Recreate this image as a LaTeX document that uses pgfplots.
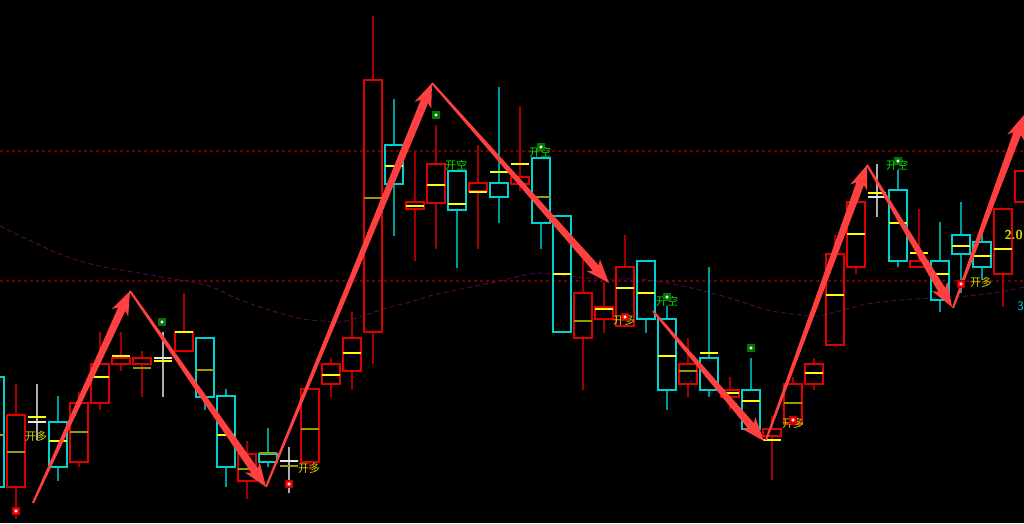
\documentclass[border=0pt]{standalone}
\usepackage{pgfplots}
\pgfplotsset{compat=1.18}
\usepgfplotslibrary{statistics}
\usepackage{fontspec}
\newfontfamily\cjk{Noto Sans CJK SC}
\definecolor{cred}{RGB}{225,0,0}
\definecolor{cwred}{RGB}{165,0,0}
\definecolor{ccyan}{RGB}{0,210,210}
\definecolor{cwcyan}{RGB}{0,155,155}
\definecolor{cwhite}{RGB}{230,230,230}
\definecolor{cwgrey}{RGB}{175,175,175}
\definecolor{cyel}{RGB}{255,255,0}
\definecolor{colive}{RGB}{155,155,0}
\definecolor{carrow}{RGB}{255,64,64}
\definecolor{cdash}{RGB}{115,0,0}
\definecolor{cma}{RGB}{75,10,75}
\definecolor{ctxty}{RGB}{215,215,0}
\definecolor{ctxtg}{RGB}{0,225,0}
\definecolor{cmkg}{RGB}{0,120,0}
% x, wickTop, boxTop, boxBot, wickBot, mid, boxcolor, wickcolor, midcolor
\newcommand{\candle}[9]{\addplot[draw=#7, line width=1.3pt, boxplot prepared={draw direction=y, draw position=#1, upper whisker=#2, upper quartile=#3, lower quartile=#4, lower whisker=#5, median=#6, box extend=18, whisker extend=0, every whisker/.style={draw=#8, line width=1.3pt}, every median/.style={draw=#9, line width=1.4pt}}] coordinates {};}
\newcommand{\R}[7]{\candle{#1}{#2}{#3}{#4}{#5}{#6}{cred}{cwred}{#7}}
\newcommand{\C}[7]{\candle{#1}{#2}{#3}{#4}{#5}{#6}{ccyan}{cwcyan}{#7}}
\newcommand{\W}[6]{\candle{#1}{#2}{#3}{#3}{#4}{#5}{cwhite}{cwgrey}{#6}}
\begin{document}
\begin{tikzpicture}
\begin{axis}[
  width=1024pt, height=523pt, scale only axis,
  xmin=0, xmax=1024, ymin=0, ymax=523, y dir=reverse,
  xtick=\empty, ytick=\empty, axis line style={draw=none},
  axis background/.style={fill=black},
  clip=true, clip marker paths=true,
]
% horizontal dashed levels
\addplot[cdash, line width=1.2pt, dash pattern=on 3pt off 3pt] coordinates {(0,151) (1024,151)};
\addplot[cdash, line width=1.2pt, dash pattern=on 3pt off 3pt] coordinates {(0,281) (1024,281)};
% moving average
\addplot[cma, line width=1pt, dash pattern=on 5pt off 3pt, smooth] coordinates {
(0,226) (10,231) (33,242) (57,253) (80,261) (103,267) (127,271) (150,275) (173,279) (197,283) (217,289) (233,297) (260,307) (283,314) (303,319) (322,321) (340,322) (360,317) (383,309) (410,302) (433,295) (457,290) (480,285) (500,281) (520,276) (540,273) (567,276) (600,279) (640,279) (667,283) (700,290) (733,299) (767,310) (793,314) (817,316) (843,310) (867,304) (900,300) (933,298) (967,296) (1000,292) (1024,287)};
% candles
\C{-5}{377}{377}{487}{487}{435}{colive}
\R{16}{384}{415}{487}{519}{452}{colive}
\W{37}{384}{422}{440}{417}{cyel}
\C{58}{396}{422}{467}{481}{441}{cyel}
\R{79}{392}{403}{462}{467}{432}{colive}
\R{100}{332}{364}{403}{410}{377}{cyel}
\R{121}{332}{358}{364}{371}{356}{cyel}
\R{142}{351}{358}{364}{397}{368}{colive}
\W{163}{332}{358}{397}{361}{cyel}
\R{184}{293}{332}{351}{351}{332}{cyel}
\C{205}{338}{338}{397}{410}{370}{colive}
\C{226}{389}{396}{467}{487}{435}{cyel}
\R{247}{441}{454}{481}{499}{469}{colive}
\C{268}{428}{454}{462}{467}{453}{colive}
\W{289}{447}{461}{493}{466}{colive}
\R{310}{389}{389}{462}{470}{429}{colive}
\R{331}{358}{364}{384}{397}{375}{cyel}
\R{352}{312}{338}{371}{390}{353}{cyel}
\R{373}{16}{80}{332}{364}{198}{colive}
\C{394}{99}{145}{184}{236}{166}{cyel}
\R{415}{152}{202}{209}{261}{206}{cyel}
\R{436}{125}{164}{203}{249}{185}{cyel}
\C{457}{171}{171}{210}{268}{204}{cyel}
\R{478}{145}{183}{191}{249}{192}{cyel}
\C{499}{87}{183}{197}{223}{172}{cyel}
\R{520}{106}{177}{184}{191}{164}{cyel}
\C{541}{158}{158}{223}{249}{197}{colive}
\C{562}{216}{216}{332}{332}{274}{cyel}
\R{583}{260}{293}{338}{390}{321}{colive}
\R{604}{282}{307}{319}{333}{309}{cyel}
\R{625}{235}{267}{326}{326}{288}{cyel}
\C{646}{261}{261}{319}{333}{293}{cyel}
\C{667}{306}{319}{390}{410}{356}{cyel}
\R{688}{338}{364}{384}{397}{371}{colive}
\C{709}{267}{358}{390}{397}{353}{cyel}
\R{730}{377}{390}{397}{410}{393}{cyel}
\C{751}{358}{390}{429}{429}{401}{cyel}
\R{772}{416}{429}{436}{480}{440}{cyel}
\R{793}{377}{384}{424}{424}{403}{colive}
\R{814}{358}{364}{384}{390}{373}{cyel}
\R{835}{235}{254}{345}{345}{295}{cyel}
\R{856}{202}{202}{267}{274}{234}{cyel}
\W{877}{164}{197}{217}{193}{cyel}
\C{898}{170}{190}{261}{267}{223}{cyel}
\R{919}{209}{261}{267}{267}{253}{cyel}
\C{940}{222}{261}{300}{312}{274}{cyel}
\C{961}{202}{235}{254}{293}{246}{cyel}
\C{982}{233}{242}{267}{280}{256}{cyel}
\R{1003}{209}{209}{274}{307}{249}{cyel}
\R{1024}{171}{171}{202}{202}{171}{cred}
% arrows (tapered shaft + swept head)
\addplot[fill=carrow, draw=none] coordinates {(33.91,503.42) (125.32,310.85) (128.20,316.57) (130,291) (111.82,309.09) (118.04,307.53) (32.09,502.58)} -- cycle;
\addplot[fill=carrow, draw=none] coordinates {(129.18,291.57) (251.31,472.85) (244.93,472.41) (266,487) (259.71,462.15) (257.89,468.29) (130.82,290.43)} -- cycle;
\addplot[fill=carrow, draw=none] coordinates {(266.93,487.38) (428.10,103.02) (431.21,108.62) (432,83) (414.55,101.78) (420.70,99.98) (265.07,486.62)} -- cycle;
\addplot[fill=carrow, draw=none] coordinates {(431.25,83.66) (592.75,270.67) (586.36,270.99) (609,283) (599.84,259.07) (598.75,265.37) (432.75,82.34)} -- cycle;
\addplot[fill=carrow, draw=none] coordinates {(652.24,311.65) (747.97,428.39) (741.57,428.59) (764,441) (755.25,416.91) (754.05,423.19) (653.76,310.35)} -- cycle;
\addplot[fill=carrow, draw=none] coordinates {(766.94,440.34) (863.85,185.15) (867.17,190.63) (867,165) (850.27,184.43) (856.35,182.39) (765.06,439.66)} -- cycle;
\addplot[fill=carrow, draw=none] coordinates {(866.14,165.51) (938.30,291.89) (931.95,291.03) (952,307) (947.39,281.79) (945.16,287.79) (867.86,164.49)} -- cycle;
\addplot[fill=carrow, draw=none] coordinates {(953.94,308.35) (1020.85,135.15) (1024.17,140.63) (1024,115) (1007.27,134.41) (1013.35,132.39) (952.06,307.65)} -- cycle;
% texts
\node[text=ctxty, font=\cjk\fontsize{11}{11}\selectfont, inner sep=0pt] at (axis cs:36,436) {开多};
\node[text=ctxty, font=\cjk\fontsize{11}{11}\selectfont, inner sep=0pt] at (axis cs:309,468) {开多};
\node[text=ctxty, font=\cjk\fontsize{11}{11}\selectfont, inner sep=0pt] at (axis cs:624,320) {开多};
\node[text=ctxty, font=\cjk\fontsize{11}{11}\selectfont, inner sep=0pt] at (axis cs:793,423) {开多};
\node[text=ctxty, font=\cjk\fontsize{11}{11}\selectfont, inner sep=0pt] at (axis cs:981,282) {开多};
\node[text=ctxtg, font=\cjk\fontsize{11}{11}\selectfont, inner sep=0pt] at (axis cs:456,165) {开空};
\node[text=ctxtg, font=\cjk\fontsize{11}{11}\selectfont, inner sep=0pt] at (axis cs:540,152) {开空};
\node[text=ctxtg, font=\cjk\fontsize{11}{11}\selectfont, inner sep=0pt] at (axis cs:667,301) {开空};
\node[text=ctxtg, font=\cjk\fontsize{11}{11}\selectfont, inner sep=0pt] at (axis cs:897,165) {开空};
\node[text=ctxty, font=\sffamily\bfseries\fontsize{13}{13}\selectfont, anchor=east, inner sep=0pt] at (axis cs:1023,235) {2.0};
\node[text=ccyan, font=\sffamily\fontsize{13}{13}\selectfont, anchor=east, inner sep=0pt] at (axis cs:1024,306) {3};
% signal markers
\addplot[only marks, mark=square*, mark size=3.5pt, mark options={fill=red, draw=red!70!black}] coordinates {(16,511) (289,484) (625,317) (793,420) (961,284)};
\addplot[only marks, mark=square*, mark size=3.5pt, mark options={fill=cmkg, draw=cmkg}] coordinates {(162,322) (436,115) (541,147) (667,297) (751,348) (898,161)};
\addplot[only marks, mark=*, mark size=1.3pt, mark options={fill=white, draw=white}] coordinates {(16,511) (289,484) (625,317) (793,420) (961,284) (162,322) (436,115) (541,147) (667,297) (751,348) (898,161)};
\end{axis}
\end{tikzpicture}
\end{document}
